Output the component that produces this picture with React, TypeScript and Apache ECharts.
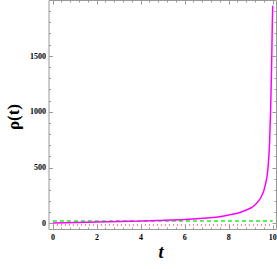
import React, { useEffect, useRef } from "react";
import * as echarts from "echarts";

const tValues = [0, 1, 2, 3, 4, 5, 6, 7, 7.5, 8, 8.5, 9, 9.2, 9.4, 9.5, 9.6, 9.7, 9.75, 9.8, 9.85, 9.88, 9.9, 9.93, 9.96, 9.98, 10];
const rhoValues = [6, 10, 14, 19, 24, 30, 38, 50, 60, 78, 100, 140, 170, 215, 250, 300, 380, 440, 540, 700, 880, 1000, 1250, 1550, 1800, 1950];
const flatT = [0, 10];
const greenValues = [25, 25];
const redValues = [-12, -12];

const yMajor = [0, 500, 1000, 1500];
const yMinor = [100, 200, 300, 400, 600, 700, 800, 900, 1100, 1200, 1300, 1400, 1600, 1700, 1800, 1900];
const xMajor = [0, 2, 4, 6, 8, 10];
const xMinor = [0.4, 0.8, 1.2, 1.6, 2.4, 2.8, 3.2, 3.6, 4.4, 4.8, 5.2, 5.6, 6.4, 6.8, 7.2, 7.6, 8.4, 8.8, 9.2, 9.6];

const FRAME = "#999999";
const FONT = "Liberation Serif";

export default function App() {
  const ref = useRef<HTMLDivElement>(null);
  useEffect(() => {
    if (!ref.current) return;
    const chart = echarts.init(ref.current, null, { renderer: "svg" });
    const xMin = -0.18, xMax = 10.17, yMin = -52, yMax = 1997;
    const mkX = (pos: string, ticks: number[], len: number, labels: boolean) => ({
      type: "value", min: xMin, max: xMax, position: pos,
      axisLine: { show: false, onZero: false },
      axisTick: { show: true, inside: true, length: len, customValues: ticks, lineStyle: { color: FRAME } },
      axisLabel: { show: labels, customValues: ticks, formatter: (v: number) => String(v), color: "#000", fontFamily: FONT, fontWeight: "bold", fontSize: 8, margin: 4 },
      splitLine: { show: false },
    });
    const mkY = (pos: string, ticks: number[], len: number, labels: boolean) => ({
      type: "value", min: yMin, max: yMax, position: pos,
      axisLine: { show: false, onZero: false },
      axisTick: { show: true, inside: true, length: len, customValues: ticks, lineStyle: { color: FRAME } },
      axisLabel: { show: labels, customValues: ticks, formatter: (v: number) => String(v), color: "#000", fontFamily: FONT, fontWeight: "bold", fontSize: 8, margin: 3 },
      splitLine: { show: false },
    });
    chart.setOption({
      animation: false,
      grid: { left: 49, right: 0.5, top: 0.5, bottom: 39.5, containLabel: false, outerBoundsMode: "none", show: true, borderColor: FRAME, borderWidth: 1, backgroundColor: "transparent" },
      xAxis: [
        mkX("bottom", xMajor, 4, true),
        mkX("bottom", xMinor, 2, false),
        mkX("top", xMajor, 4, false),
        mkX("top", xMinor, 2, false),
      ],
      yAxis: [
        mkY("left", yMajor, 4, true),
        mkY("left", yMinor, 2, false),
        mkY("right", yMajor, 4, false),
        mkY("right", yMinor, 2, false),
      ],
      graphic: [
        { type: "text", x: 13, y: 117, rotation: Math.PI / 2, style: { text: "ρ(t)", font: `bold 17px "${FONT}"`, fill: "#000", align: "center", verticalAlign: "middle" } },
        { type: "text", x: 161, y: 252, style: { text: "t", font: `italic bold 18px "${FONT}"`, fill: "#000", align: "center", verticalAlign: "middle" } },
      ],
      series: [
        { type: "line", data: flatT.map((t, i) => [t, redValues[i]]), showSymbol: false, lineStyle: { color: "#ff6060", width: 1.5, type: [1, 3] } },
        { type: "line", data: flatT.map((t, i) => [t, greenValues[i]]), showSymbol: false, lineStyle: { color: "#22ee22", width: 1.5, type: [4, 3] } },
        { type: "line", data: tValues.map((t, i) => [t, rhoValues[i]]), showSymbol: false, smooth: 0.3, lineStyle: { color: "#ff00ff", width: 1.5 } },
      ],
    });
    return () => chart.dispose();
  }, []);
  return <div ref={ref} style={{ position: "absolute", left: 0, top: 0, width: 277, height: 269 }} />;
}
